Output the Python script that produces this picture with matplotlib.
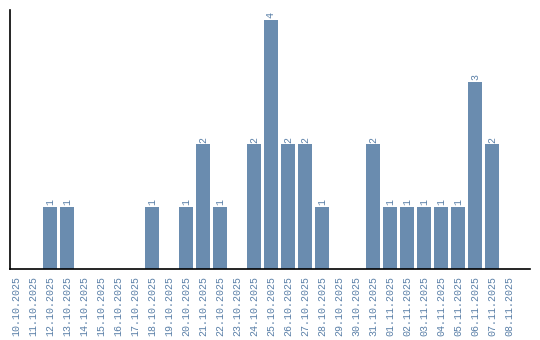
import matplotlib
matplotlib.use("Agg")
import matplotlib.pyplot as plt

dates = ["10.10.2025", "11.10.2025", "12.10.2025", "13.10.2025", "14.10.2025",
         "15.10.2025", "16.10.2025", "17.10.2025", "18.10.2025", "19.10.2025",
         "20.10.2025", "21.10.2025", "22.10.2025", "23.10.2025", "24.10.2025",
         "25.10.2025", "26.10.2025", "27.10.2025", "28.10.2025", "29.10.2025",
         "30.10.2025", "31.10.2025", "01.11.2025", "02.11.2025", "03.11.2025",
         "04.11.2025", "05.11.2025", "06.11.2025", "07.11.2025", "08.11.2025"]
counts = [0, 0, 1, 1, 0, 0, 0, 0, 1, 0,
          1, 2, 1, 0, 2, 4, 2, 2, 1, 0,
          0, 2, 1, 1, 1, 1, 1, 3, 2, 0]

bar_color = "#6a8caf"
text_color = "#5b80a8"
font = "Liberation Mono"

fig = plt.figure(figsize=(5.4, 3.4), dpi=100)
ax = fig.add_axes([10/540, 1 - 269/340, 520/540, 259/340])

x = list(range(len(dates)))
bars = ax.bar(x, counts, width=0.82, color=bar_color)
for xi, v in zip(x, counts):
    if v > 0:
        ax.text(xi, v + 0.03, str(v), rotation=90, ha="center", va="bottom",
                fontsize=7.2, family=font, color=text_color)

ax.set_xlim(-0.35, 30.24)
ax.set_ylim(0, 4.16)
ax.set_xticks(x)
ax.set_xticklabels(dates, rotation=90, fontsize=7.2, family=font, color=text_color)
ax.tick_params(axis="x", length=0, pad=5)
ax.set_yticks([])
for s in ["top", "right"]:
    ax.spines[s].set_visible(False)
ax.spines["left"].set_linewidth(1.2)
ax.spines["bottom"].set_linewidth(1.2)

fig.savefig("out.png", dpi=100)
